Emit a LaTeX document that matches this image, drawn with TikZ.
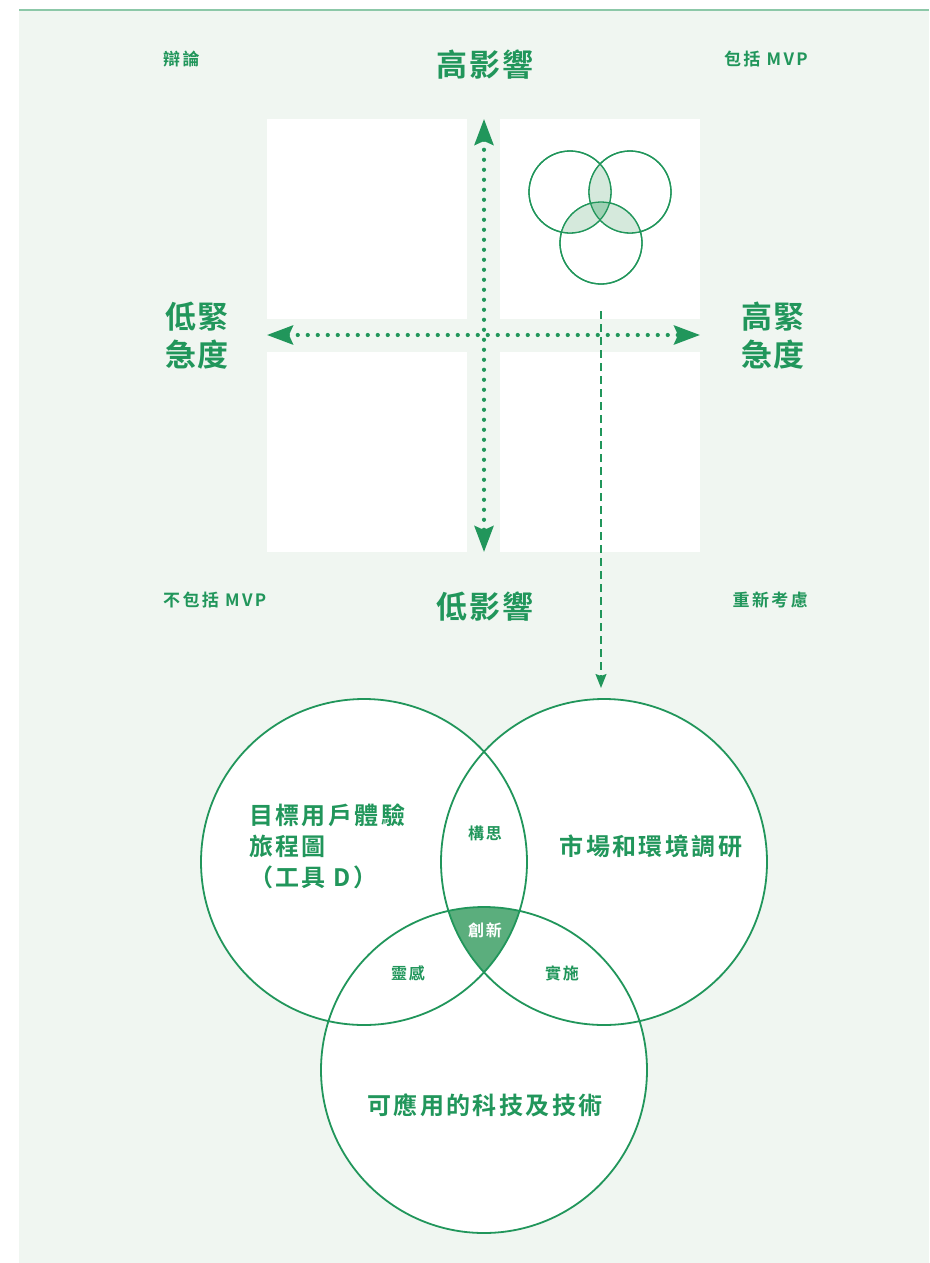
\documentclass[tikz,border=0pt]{standalone}
\usepackage{fontspec}
\setmainfont{Noto Sans CJK TC}[BoldFont=* Bold]
\usetikzlibrary{arrows.meta}
\definecolor{bg}{HTML}{F0F6F1}
\definecolor{gr}{HTML}{21965B}
\definecolor{topln}{HTML}{8CC8A8}
\definecolor{lite}{HTML}{D5E9DC}
\definecolor{mid}{HTML}{9FD1B4}
\definecolor{dark}{HTML}{5BAE7D}
\tikzset{
  quad/.style={fill=white, draw=none, minimum width=200pt, minimum height=200pt, inner sep=0pt},
  dotline/.style={gr, line width=4.2pt, line cap=round, dash pattern=on 0pt off 10pt,
     {Stealth[length=26pt,width=19pt,inset=4pt]}-{Stealth[length=26pt,width=19pt,inset=4pt]}},
  dashline/.style={gr, line width=1.5pt, dash pattern=on 8pt off 5pt, -{Stealth[length=14pt,width=11pt,inset=2pt]}},
  bigc/.style={circle, draw=gr, line width=1.8pt, minimum size=326pt, inner sep=0pt},
  smc/.style={circle, draw=gr, line width=1.3pt, minimum size=82pt, inner sep=0pt},
  head/.style={text=gr, font=\bfseries\fontsize{31}{38}\selectfont\addfontfeature{LetterSpace=6}, align=center, inner sep=0pt},
  corner/.style={text=gr, font=\bfseries\fontsize{17}{18}\selectfont\addfontfeature{LetterSpace=14}, inner sep=0pt},
  vlab/.style={text=gr, font=\bfseries\fontsize{24}{31}\selectfont\addfontfeature{LetterSpace=10}, inner sep=0pt},
  slab/.style={text=gr, font=\bfseries\fontsize{16}{18}\selectfont\addfontfeature{LetterSpace=10}, inner sep=0pt},
}
\begin{document}
\begin{tikzpicture}[x=1pt,y=-1pt]
\useasboundingbox (0,0) rectangle (929,1263);
\fill[bg] (19,10) rectangle (929,1263);
\draw[topln, line width=1.5pt] (19,10) -- (929,10);

% quadrants
\node[quad] (q1) at (367,219) {};
\node[quad] (q2) at (600,219) {};
\node[quad] (q3) at (367,452) {};
\node[quad] (q4) at (600,452) {};

% small venn
\node[smc] (s1) at (570,192) {};
\node[smc] (s2) at (630,192) {};
\node[smc] (s3) at (601,243) {};
\begin{scope}
  \clip (570,192) circle (41pt);
  \fill[lite] (630,192) circle (41pt);
  \fill[lite] (601,243) circle (41pt);
\end{scope}
\begin{scope}
  \clip (630,192) circle (41pt);
  \fill[lite] (601,243) circle (41pt);
\end{scope}
\begin{scope}
  \clip (570,192) circle (41pt);
  \clip (630,192) circle (41pt);
  \fill[mid] (601,243) circle (41pt);
\end{scope}
\draw[gr, line width=1.3pt] (s1.center) circle (41pt) (s2.center) circle (41pt) (s3.center) circle (41pt);

% axes
\coordinate (vt) at (484,119);
\coordinate (vb) at (484,552);
\coordinate (hl) at (267,335);
\coordinate (hr) at (700,335);
\draw[dotline] (vt) -- (vb);
\draw[dotline] (hl) -- (hr);

% dashed arrow
\coordinate (ds) at (601,311);
\coordinate (de) at (601,688);
\draw[dashline] (ds) -- (de);

% axis labels
\node[head] (hi) at (485,65) {高影響};
\node[head] (lo) at (485,607) {低影響};
\node[head] (lu) at (197,336) {低緊\\急度};
\node[head] (hu) at (773,336) {高緊\\急度};

% corner labels
\node[corner, anchor=west] (c1) at (163,59) {辯論};
\node[corner, anchor=east] (c2) at (808,59) {包括 MVP};
\node[corner, anchor=west] (c3) at (163,600) {不包括 MVP};
\node[corner, anchor=east] (c4) at (808,600) {重新考慮};

% big venn
\fill[white] (364,862) circle (163pt) (604,862) circle (163pt) (484,1070) circle (163pt);
\begin{scope}
  \clip (364,862) circle (163pt);
  \clip (604,862) circle (163pt);
  \fill[dark] (484,1070) circle (163pt);
\end{scope}
\node[bigc] (b1) at (364,862) {};
\node[bigc] (b2) at (604,862) {};
\node[bigc] (b3) at (484,1070) {};

\node[vlab, anchor=west, align=left] (t1) at (249,846) {目標用戶體驗\\旅程圖\\（工具 D）};
\node[vlab] (t2) at (651,846) {市場和環境調研};
\node[vlab] (t3) at (485,1105) {可應用的科技及技術};

\node[slab] (i1) at (485,833) {構思};
\node[slab, text=white] (i2) at (485,930) {創新};
\node[slab] (i3) at (408,973) {靈感};
\node[slab] (i4) at (562,973) {實施};
\end{tikzpicture}
\end{document}
